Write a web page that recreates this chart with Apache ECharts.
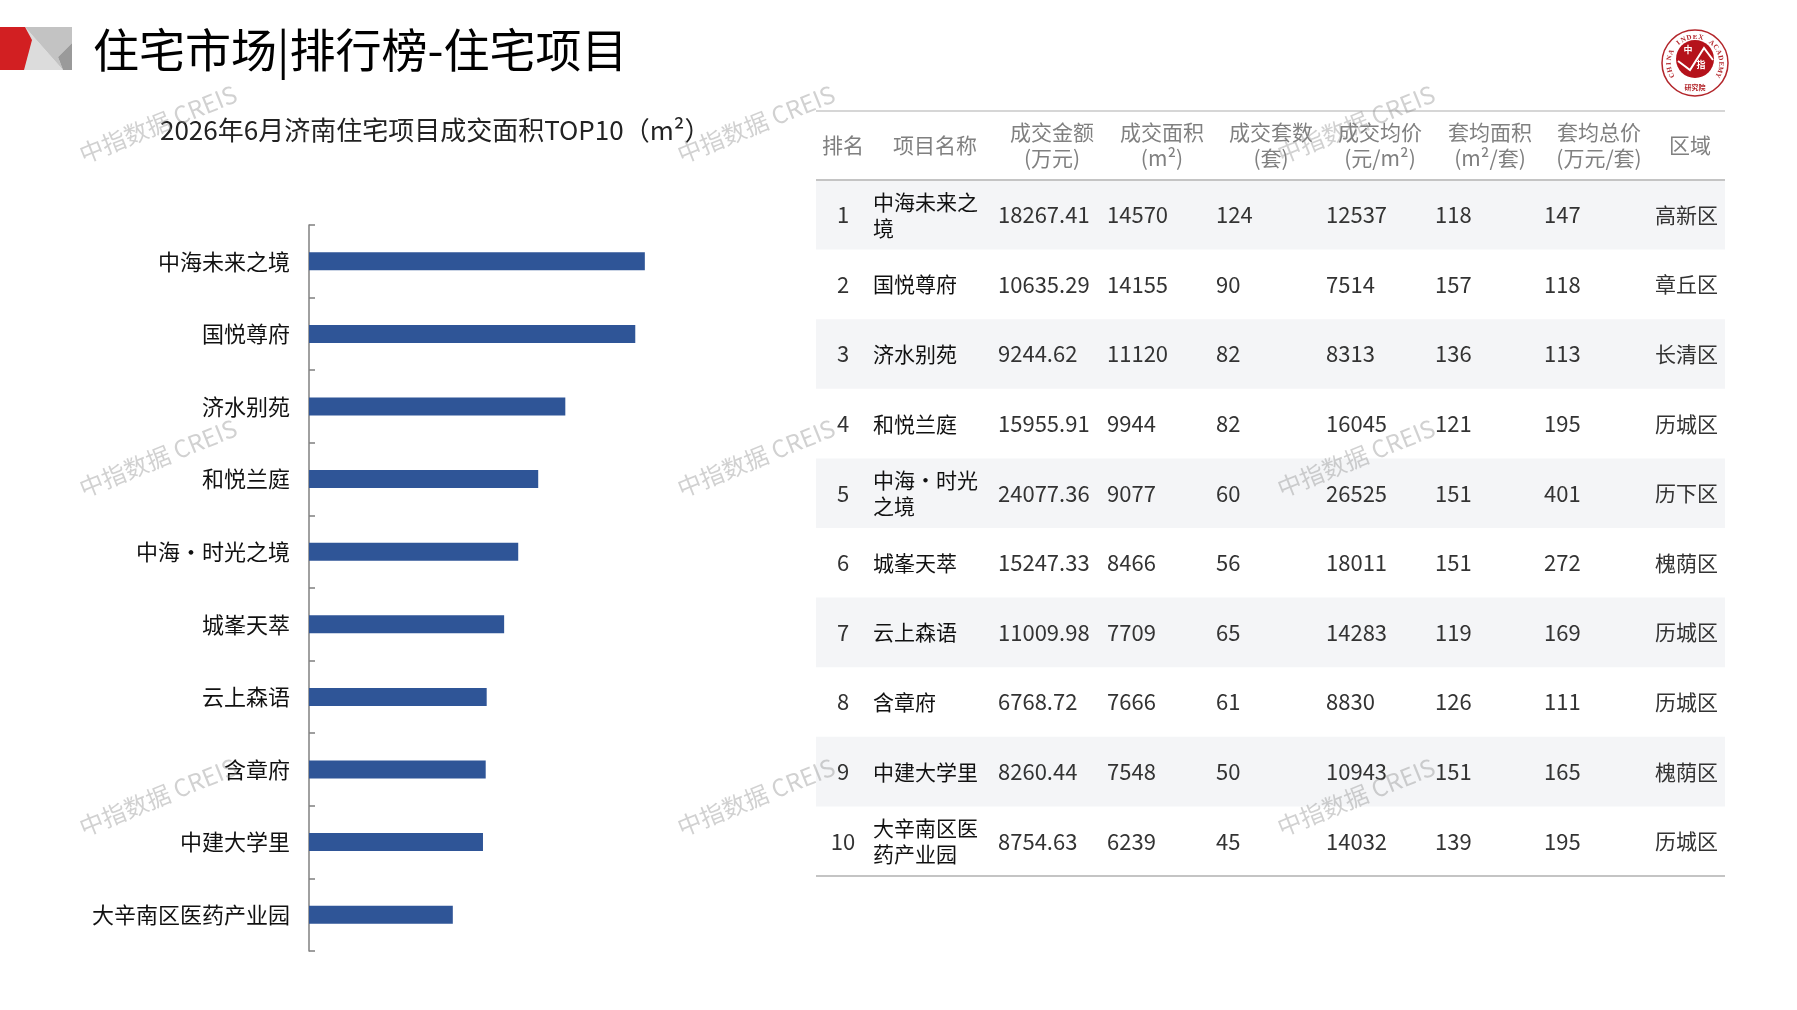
<!DOCTYPE html>
<html><head><meta charset="utf-8">
<script src="https://cdn.jsdelivr.net/npm/echarts@6/dist/echarts.min.js"></script>
<style>html,body{margin:0;padding:0;background:#fff}#c{width:1797px;height:1010px}</style>
</head><body><div id="c"></div>
<script>
// ---- data ----
const projects = ['中海未来之境','国悦尊府','济水别苑','和悦兰庭','中海·时光之境','城峯天萃','云上森语','含章府','中建大学里','大辛南区医药产业园'];
const ranks = [1,2,3,4,5,6,7,8,9,10];
const dealArea = [14570,14155,11120,9944,9077,8466,7709,7666,7548,6239];
const dealAmount = ['18267.41','10635.29','9244.62','15955.91','24077.36','15247.33','11009.98','6768.72','8260.44','8754.63'];
const dealCount = [124,90,82,82,60,56,65,61,50,45];
const avgPrice = [12537,7514,8313,16045,26525,18011,14283,8830,10943,14032];
const avgUnitArea = [118,157,136,121,151,151,119,126,151,139];
const avgUnitTotal = [147,118,113,195,401,272,169,111,165,195];
const districts = ['高新区','章丘区','长清区','历城区','历下区','槐荫区','历城区','历城区','槐荫区','历城区'];
const headers = ['排名','项目名称','成交金额\n(万元)','成交面积\n(m²)','成交套数\n(套)','成交均价\n(元/m²)','套均面积\n(m²/套)','套均总价\n(万元/套)','区域'];
const mainTitle = '住宅市场|排行榜-住宅项目';
const subTitle = '2026年6月济南住宅项目成交面积TOP10（m²）';
const watermark = '中指数据 CREIS';

// ---- layout ----
const CJK = "'Noto Sans CJK SC', sans-serif";
const NUM = "'Liberation Sans Narrow', 'Noto Sans CJK SC', sans-serif";
const tblL = 816, tblR = 1725, tblTop = 111, headBottom = 180, rowH = 69.6;
const headerX = [843, 935, 1052, 1162, 1271, 1380, 1490, 1599, 1690];
const colX = {rank:843, name:873, amount:998, area:1107, count:1216, price:1326, aArea:1435, aTotal:1544, region:1655};

const g = [];
// header logo shape (left)
g.push({type:'polygon', shape:{points:[[22,27],[25,27],[63,70],[22,70]]}, style:{fill:'#dcdcdc'}, silent:true});
g.push({type:'polygon', shape:{points:[[25,27],[72,27],[72,43],[58,57],[63,70]]}, style:{fill:'#c3c3c3'}, silent:true});
g.push({type:'polygon', shape:{points:[[72,43],[58,57],[63,70],[72,70]]}, style:{fill:'#9a9a9a'}, silent:true});
g.push({type:'polygon', shape:{points:[[0,27],[25,27],[32,40],[24,70],[0,70]]}, style:{fill:'#d21f22'}, silent:true});

// right logo
const lcx = 1695, lcy = 63;
g.push({type:'circle', shape:{cx:lcx, cy:lcy, r:33}, style:{fill:'#fff', stroke:'#b3262b', lineWidth:1.5}, silent:true});
g.push({type:'circle', shape:{cx:lcx, cy:lcy-4, r:19}, style:{fill:'#b5121b'}, silent:true});
g.push({type:'polyline', shape:{points:[[lcx-17,lcy-2],[lcx-5,lcy+7],[lcx+9,lcy-15],[lcx+18,lcy-3]]}, style:{stroke:'#fff', lineWidth:2, fill:null}, silent:true});
g.push({type:'text', x:lcx-7, y:lcy-13, style:{text:'中', fill:'#fff', font:'bold 9px '+CJK, align:'center', verticalAlign:'middle'}, silent:true});
g.push({type:'text', x:lcx+6, y:lcy+2, style:{text:'指', fill:'#fff', font:'bold 9px '+CJK, align:'center', verticalAlign:'middle'}, silent:true});
g.push({type:'text', x:lcx, y:lcy+24, style:{text:'研究院', fill:'#b3262b', font:'bold 7px '+CJK, align:'center', verticalAlign:'middle'}, silent:true});
const arcText = 'CHINA INDEX ACADEMY';
for (let i = 0; i < arcText.length; i++) {
  const phi = (-118 + 236 * i / (arcText.length - 1)) * Math.PI / 180;
  g.push({type:'text', x:lcx + 26*Math.sin(phi), y:lcy - 26*Math.cos(phi), rotation:-phi,
    style:{text:arcText[i], fill:'#b3262b', font:"bold 7px 'Liberation Serif', serif", align:'center', verticalAlign:'middle'}, silent:true});
}

// table
for (let i = 0; i < projects.length; i++) {
  if (i % 2 === 0) g.push({type:'rect', shape:{x:tblL, y:headBottom + i*rowH, width:tblR-tblL, height:rowH}, style:{fill:'#f4f5f7'}, silent:true});
}
g.push({type:'line', shape:{x1:tblL, y1:tblTop, x2:tblR, y2:tblTop}, style:{stroke:'#d6d6d6', lineWidth:2}, silent:true});
g.push({type:'line', shape:{x1:tblL, y1:headBottom, x2:tblR, y2:headBottom}, style:{stroke:'#c4c4c4', lineWidth:2}, silent:true});
g.push({type:'line', shape:{x1:tblL, y1:headBottom + rowH*projects.length, x2:tblR, y2:headBottom + rowH*projects.length}, style:{stroke:'#c4c4c4', lineWidth:2}, silent:true});
headers.forEach((h, k) => {
  g.push({type:'text', x:headerX[k], y:(tblTop+headBottom)/2, style:{text:h, fill:'#808080', font:'21px '+CJK, align:'center', verticalAlign:'middle', lineHeight:26}, silent:true});
});
for (let i = 0; i < projects.length; i++) {
  const cy = headBottom + (i + 0.5) * rowH;
  const t = (x, s, font, fill, align) => g.push({type:'text', x:x, y:cy, style:{text:String(s), fill:fill, font:font, align:align||'left', verticalAlign:'middle'}, silent:true});
  t(colX.rank, ranks[i], '22px '+NUM, '#333', 'center');
  g.push({type:'text', x:colX.name, y:cy, style:{text:projects[i], fill:'#111', font:'21px '+CJK, align:'left', verticalAlign:'middle', width:109, overflow:'break', lineHeight:26}, silent:true});
  t(colX.amount, dealAmount[i], '22px '+NUM, '#333');
  t(colX.area, dealArea[i], '22px '+NUM, '#333');
  t(colX.count, dealCount[i], '22px '+NUM, '#333');
  t(colX.price, avgPrice[i], '22px '+NUM, '#333');
  t(colX.aArea, avgUnitArea[i], '22px '+NUM, '#333');
  t(colX.aTotal, avgUnitTotal[i], '22px '+NUM, '#333');
  t(colX.region, districts[i], '21px '+CJK, '#333');
}

// watermarks
[158, 756, 1356].forEach(x => [124, 458, 797].forEach(y => {
  g.push({type:'text', x:x, y:y, z:100, rotation:22*Math.PI/180,
    style:{text:watermark, fill:'rgba(140,140,140,0.4)', font:'24px '+CJK, align:'center', verticalAlign:'middle'}, silent:true});
}));

const chart = echarts.init(document.getElementById('c'));
chart.setOption({
  backgroundColor:'#fff',
  animation:false,
  title:[
    {text:mainTitle, left:88, top:20, textStyle:{fontFamily:CJK, fontSize:46, fontWeight:'normal', color:'#000', lineHeight:50}},
    {text:subTitle, left:155, top:110, textStyle:{fontFamily:CJK, fontSize:26, fontWeight:'normal', color:'#222', lineHeight:30}}
  ],
  grid:{left:309, top:225, width:461, height:726, containLabel:false},
  xAxis:{type:'value', min:0, max:20000, show:false},
  yAxis:{type:'category', data:projects, inverse:true,
    axisLine:{show:true, lineStyle:{color:'#808080', width:1.5}},
    axisTick:{show:true, inside:true, length:6, lineStyle:{color:'#808080', width:1.5}},
    axisLabel:{margin:19, color:'#111', fontSize:22, fontFamily:CJK}},
  series:[{type:'bar', data:dealArea, barWidth:18, itemStyle:{color:'#2f5597'}, silent:true}],
  graphic:{elements:g}
});
</script></body></html>
